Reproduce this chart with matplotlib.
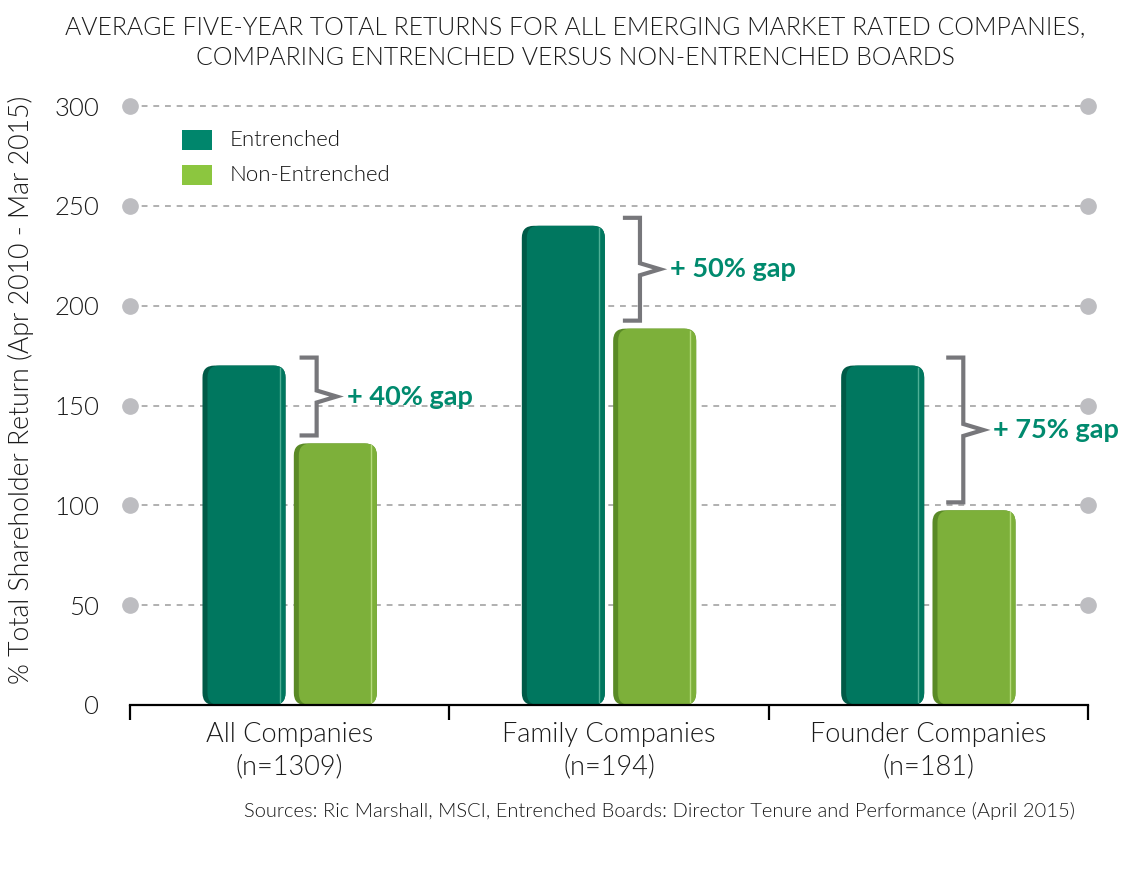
import matplotlib
matplotlib.use("Agg")
import matplotlib.pyplot as plt
from matplotlib.patches import FancyBboxPatch, Rectangle
import numpy as np

categories = ["All Companies\n(n=1309)", "Family Companies\n(n=194)", "Founder Companies\n(n=181)"]
entrenched = [170, 240, 170]
non_entrenched = [131, 188.5, 97.5]
gap_labels = ["+ 40% gap", "+ 50% gap", "+ 75% gap"]
series_names = ["Entrenched", "Non-Entrenched"]
yticks = [0, 50, 100, 150, 200, 250, 300]

plt.rcParams['font.family'] = ['Lato', 'DejaVu Sans']
LW = 300

W, H = 1147, 883
fig = plt.figure(figsize=(W/100, H/100), dpi=100)
ax = fig.add_axes([130/W, 1-705/H, (1088-130)/W, (705-106)/H])
ax.set_xlim(-0.5, 2.5)
ax.set_ylim(0, 300)

x = np.arange(len(categories))
bw = 0.26
off = 0.143

c_ent, c_ent_dark, c_ent_light = "#00775f", "#005a47", "#4fb096"
c_non, c_non_dark, c_non_light = "#7db03a", "#5a8a26", "#b5da7c"

bars1 = ax.bar(x - off, entrenched, bw, color=c_ent, zorder=3)
bars2 = ax.bar(x + off, non_entrenched, bw, color=c_non, zorder=3)

px_x = 3.0 / (1088 - 130)
px_y = 300.0 / (705 - 106)
rs = 12 * px_x
aspect = (12 * px_y) / rs

def rbox(x0, y0, w, h, fc, z):
    p = FancyBboxPatch((x0, y0), w, h,
                       boxstyle=f"round,pad=0,rounding_size={rs}",
                       mutation_aspect=aspect, fc=fc, ec="none",
                       zorder=z, clip_on=False)
    ax.add_patch(p)

def restyle(bars, main, dark, light):
    for b in bars:
        b.set_visible(False)
        x0, w, h = b.get_x(), b.get_width(), b.get_height()
        rbox(x0, 0, w, h, dark, 3)
        rbox(x0 + 5 * px_x, 0, w - 5 * px_x, h, main, 3.1)
        ax.plot([x0 + w - 6 * px_x] * 2, [3 * px_y, h - 2 * px_y],
                color=light, lw=1, zorder=4)

restyle(bars1, c_ent, c_ent_dark, c_ent_light)
restyle(bars2, c_non, c_non_dark, c_non_light)

for yv in yticks[1:]:
    ax.plot([-0.5, 2.5], [yv, yv], color="#b0b0b0", lw=1.4,
            dashes=(3, 3), zorder=1, clip_on=False)
    ax.plot([-0.5, 2.5], [yv, yv], linestyle="none", marker="o",
            ms=11, color="#bdbdc1", zorder=2, clip_on=False)

for s in ["top", "right", "left"]:
    ax.spines[s].set_visible(False)
ax.spines["bottom"].set_color("black")
ax.spines["bottom"].set_linewidth(1.6)
ax.spines["bottom"].set_zorder(5)

ax.set_xticks([-0.5, 0.5, 1.5, 2.5])
ax.set_xticklabels([])
ax.tick_params(axis="x", which="major", length=11, width=1.6, direction="out", color="black")
ax.set_xticks(x, minor=True)
ax.set_xticklabels(categories, minor=True, fontsize=19.5, color="#1a1a1a", fontweight=LW)
ax.tick_params(axis="x", which="minor", length=0, pad=12)
for t in ax.get_xticklabels(minor=True):
    t.set_linespacing(1.4)

ax.set_yticks(yticks)
ax.set_yticklabels([str(v) for v in yticks], fontsize=18.5, color="#1a1a1a", fontweight=LW)
ax.tick_params(axis="y", length=0, pad=22)

ax.set_ylabel("% Total Shareholder Return (Apr 2010 - Mar 2015)", fontsize=19.2,
              color="#1a1a1a", fontweight=LW)
ax.yaxis.set_label_coords(-96/958, 0.527)

gray = "#77777b"
txt_col = "#008a6e"
br_left = [0.0375, 0.05, 0.0625]
for i in range(len(categories)):
    top = entrenched[i] + 4
    bot = non_entrenched[i] + 4
    mid = (top + bot) / 2
    xl = x[i] + br_left[i]
    xr = xl + 15 * px_x
    xp = xr + 20 * px_x
    nh = 3.0
    ax.plot([xl, xr, xr, xp, xr, xr, xl],
            [top, top, mid + nh, mid, mid - nh, bot, bot],
            color=gray, lw=3, zorder=6, solid_joinstyle="miter", clip_on=False)
    ax.text(xp + 10 * px_x, mid, gap_labels[i], fontsize=19.5, fontweight="bold",
            color=txt_col, va="center", ha="left", zorder=6)

lx0 = (182 - 130) * px_x - 0.5
for j, (name, col) in enumerate(zip(series_names, ["#00866c", "#8cc63f"])):
    yc = 300 - (140 + 35 * j - 106) * px_y
    ax.add_patch(Rectangle((lx0, yc - 10 * px_y), 30 * px_x, 20 * px_y,
                           fc=col, ec="none", zorder=6, clip_on=False))
    ax.text(lx0 + 48 * px_x, yc, name, fontsize=16, va="center", ha="left",
            color="#111111", zorder=6, fontweight=LW)

fig.text(575/W, 1-28/H, "AVERAGE FIVE-YEAR TOTAL RETURNS FOR ALL EMERGING MARKET RATED COMPANIES,",
         ha="center", va="center", fontsize=17.8, color="#1a1a1a", fontweight=LW)
fig.text(575/W, 1-58/H, "COMPARING ENTRENCHED VERSUS NON-ENTRENCHED BOARDS",
         ha="center", va="center", fontsize=17.8, color="#1a1a1a", fontweight=LW)
fig.text(1075/W, 1-811/H,
         "Sources: Ric Marshall, MSCI, Entrenched Boards: Director Tenure and Performance (April 2015)",
         ha="right", va="center", fontsize=14.5, color="#1a1a1a", fontweight=LW)

fig.savefig("out.png", dpi=100, facecolor="white")
